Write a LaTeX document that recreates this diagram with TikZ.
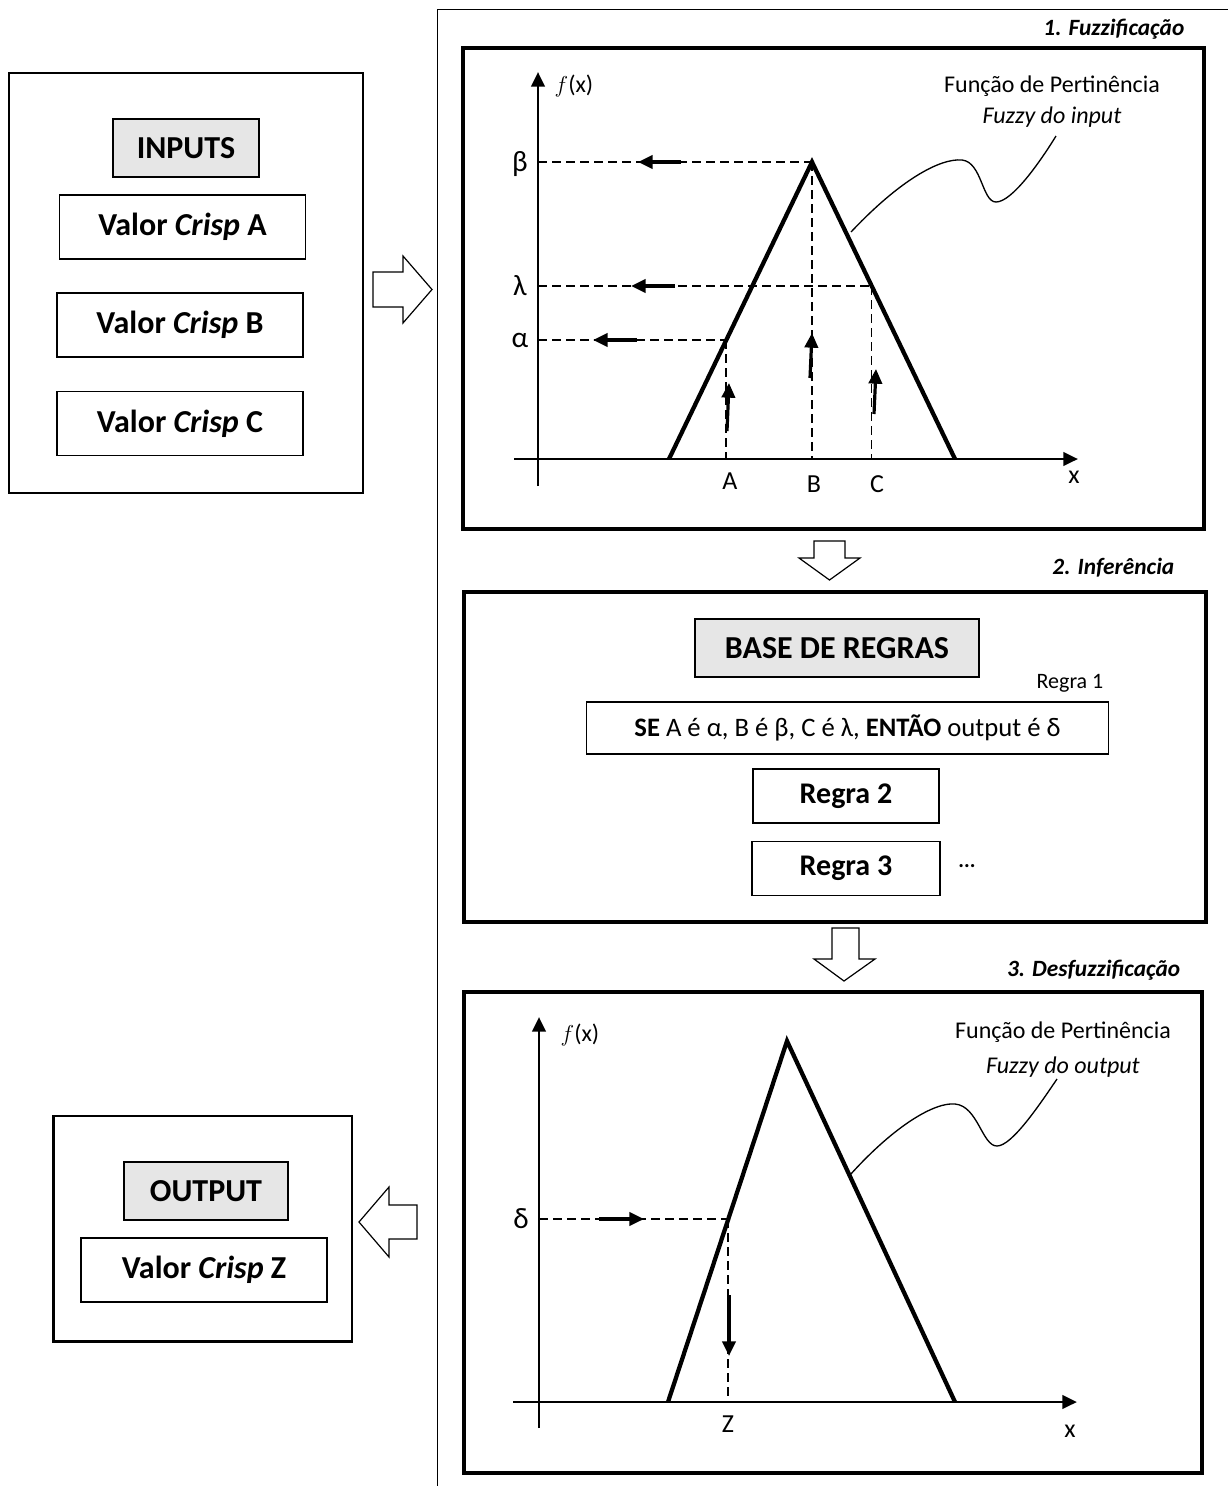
\documentclass[tikz,border=0pt]{standalone}
\usepackage{fontspec}
\setmainfont{Carlito}
\usetikzlibrary{arrows.meta,calc,positioning}
\definecolor{boxgray}{RGB}{230,230,230}
\newcommand{\bigtxt}{\fontsize{24}{28}\selectfont\bfseries}
\newcommand{\lbl}{\fontsize{19.5}{22}\selectfont}
\newcommand{\grk}{\fontsize{22}{25}\selectfont}
\newcommand{\stage}{\fontsize{17.5}{20}\selectfont\bfseries\itshape}
\newcommand{\note}{\fontsize{18}{21}\selectfont}

\begin{document}
\begin{tikzpicture}[x=0.75pt,y=-0.75pt,
		box/.style={draw,line width=0.9pt,inner sep=0pt,align=center},
		graybox/.style={box,fill=boxgray},
		panel/.style={draw,line width=3pt,inner sep=0pt},
		frame/.style={line width=1.1pt},
		guide/.style={line width=0.8pt,dash pattern=on 7pt off 3.5pt},
		axis/.style={line width=2.2pt,-{Triangle[length=11pt,width=10pt]}},
		pointer/.style={line width=2.4pt,-{Triangle[length=11pt,width=10pt]}},
		memb/.style={line width=3.2pt,line join=miter},
		wave/.style={line width=1pt},
		blockarrow/.style={draw,line width=0.9pt,fill=white}]
	\useasboundingbox (0,0) rectangle (1228,1486);

	% the frame round the three steps
	\draw[frame] (1228,9.5) to (437.5,9.5) to (437.5,1486);
	\node[anchor=east] (s1) at (1189,29) {\stage 1. Fuzzificação};
	\node[anchor=east] (s2) at (1179,568) {\stage 2. Inferência};
	\node[anchor=east] (s3) at (1185,970) {\stage 3. Desfuzzificação};

	% inputs
	\node[box,line width=2pt,minimum width=265.5pt,minimum height=315pt] (in) at (186,283) {};
	\node[graybox,minimum width=109.5pt,minimum height=43.5pt] (inputs) at (186,148) {\bigtxt INPUTS};
	\node[box,minimum width=185pt,minimum height=48pt] (va) at (182.5,227) {\bigtxt Valor \textit{Crisp} A};
	\node[box,minimum width=184.5pt,minimum height=48pt] (vb) at (180,325) {\bigtxt Valor \textit{Crisp} B};
	\node[box,minimum width=184.5pt,minimum height=48pt] (vc) at (180,423.5) {\bigtxt Valor \textit{Crisp} C};

	% output
	\node[box,line width=2pt,minimum width=224pt,minimum height=169pt] (out) at (202.5,1228.5) {};
	\node[graybox,minimum width=123pt,minimum height=43.5pt] (output) at (206,1191) {\bigtxt OUTPUT};
	\node[box,minimum width=184.5pt,minimum height=48pt] (vz) at (204,1270) {\bigtxt Valor \textit{Crisp} Z};

	% block arrows
	\draw[blockarrow] (373,272) to (403,272) to (403,256) to (432,289.5) to (403,323) to (403,307) to (373,307) -- cycle;
	\draw[blockarrow] (814,541) to (845,541) to (845,558) to (860,558) to (829.5,580) to (799,558) to (814,558) -- cycle;
	\draw[blockarrow] (832,928) to (859,928) to (859,959) to (875,959) to (844,981) to (814,959) to (832,959) -- cycle;
	\draw[blockarrow] (417,1205) to (389,1205) to (389,1187) to (359,1222) to (389,1257) to (389,1239) to (417,1239) -- cycle;

	% 1. fuzzificacao
	\node[panel,minimum width=555.75pt,minimum height=360.75pt] (p1) at (833.5,288.5) {};
	\coordinate (o1) at (538,459);
	\coordinate (l1) at (669,459);
	\coordinate (t1) at (812,162);
	\coordinate (r1) at (955,459);
	\draw[axis] (538,486) to (538,72);
	\draw[axis] (514,459) to (1078,459);
	\draw[guide] (538,162) to (t1);
	\draw[guide] (538,286) to (871.7,286);
	\draw[guide] (538,340) to (726,340);
	\draw[guide] (726,340) to (726,459);
	\draw[guide] (t1) to (812,459);
	\draw[guide] (871.7,286) to (871.7,459);
	\draw[memb] (l1) to (t1) to (r1);
	\draw[pointer] (681,162) to (638,162);
	\draw[pointer] (675,286) to (631,286);
	\draw[pointer] (637,340) to (593,340);
	\draw[pointer] (727,431) to (729,383);
	\draw[pointer] (810,378) to (812,333);
	\draw[pointer] (874,414) to (876,369);
	\draw[wave] (851,232) .. controls (900,180) and (940,158) .. (962,160) .. controls (982,162) and (982,202) .. (996,202) .. controls (1012,202) and (1040,162) .. (1056,136);
	\node (fx1) at (574,86) {\note $f$(x)};
	\node (beta) at (520,164) {\grk β};
	\node (lambda) at (520,286) {\grk λ};
	\node (alpha) at (520,340) {\grk α};
	\node (A) at (730,481) {\lbl A};
	\node (B) at (814,484) {\lbl B};
	\node (C) at (877,484) {\lbl C};
	\node (x1) at (1074,477) {\lbl x};
	\node (fp1) at (1052,86) {\note Função de Pertinência};
	\node (fz1) at (1052,117) {\note\itshape Fuzzy do input};

	% 2. inferencia
	\node[panel,minimum width=556.5pt,minimum height=247.5pt] (p2) at (835,757) {};
	\node[graybox,minimum width=213pt,minimum height=43.5pt] (base) at (837,648) {\bigtxt BASE DE REGRAS};
	\node (r1txt) at (1070,683) {\fontsize{16.5}{19}\selectfont Regra 1};
	\node[box,minimum width=391pt,minimum height=39pt] (rule1) at (847.5,728) {\fontsize{20}{23}\selectfont\textbf{SE} A é α, B é β, C é λ, \textbf{ENTÃO} output é δ};
	\node[box,minimum width=139.5pt,minimum height=40.5pt] (rule2) at (846,796) {\fontsize{22.5}{26}\selectfont\bfseries Regra 2};
	\node[box,minimum width=141pt,minimum height=40pt] (rule3) at (846,868.5) {\fontsize{22.5}{26}\selectfont\bfseries Regra 3};
	\node (dots) at (967,866) {\fontsize{16}{19}\selectfont\bfseries ...};

	% 3. desfuzzificacao
	\node[panel,minimum width=553.5pt,minimum height=360.75pt] (p3) at (833,1232.5) {};
	\coordinate (l3) at (668,1402);
	\coordinate (t3) at (787,1041);
	\coordinate (r3) at (955,1402);
	\draw[axis] (539,1428) to (539,1017);
	\draw[axis] (513,1402) to (1077,1402);
	\draw[guide] (539,1219) to (728,1219);
	\draw[guide] (728,1219) to (728,1402);
	\draw[memb] (l3) to (t3) to (r3);
	\draw[pointer] (599,1219) to (644,1219);
	\draw[pointer] (729,1295) to (729,1356);
	\draw[wave] (850,1175) .. controls (895,1125) and (935,1102) .. (955,1104) .. controls (978,1106) and (982,1146) .. (997,1146) .. controls (1012,1146) and (1040,1104) .. (1057,1079);
	\node (fx3) at (580,1035) {\note $f$(x)};
	\node (delta) at (521,1219) {\grk δ};
	\node (Z) at (728,1424) {\lbl Z};
	\node (x3) at (1070,1431) {\lbl x};
	\node (fp3) at (1063,1032) {\note Função de Pertinência};
	\node (fz3) at (1063,1067) {\note\itshape Fuzzy do output};
\end{tikzpicture}
\end{document}
